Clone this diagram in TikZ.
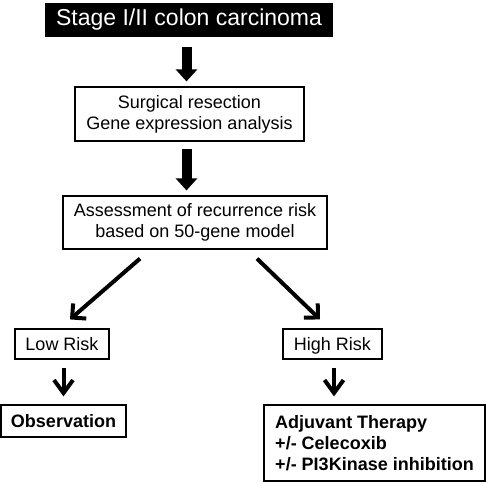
\documentclass[tikz,border=0pt]{standalone}
\usepackage{fontspec}
\setmainfont{Liberation Sans}
\usetikzlibrary{arrows.meta}
\usetikzlibrary{calc}

\begin{document}
\begin{tikzpicture}[x=1pt, y=-1pt,
 box/.style={draw=black, line width=1.2pt, inner sep=0pt, align=center, font=\fontsize{18}{21}\selectfont},
 oneline/.style={text height=13pt, text depth=0pt},
 bigarrow/.style={line width=10pt, -{Triangle[width=21pt,length=12pt]}},
 riskarrow/.style={line width=4pt, line join=miter, -{Straight Barb[length=10pt,width=20pt]}},
 stepdown/.style={line width=4pt, line join=miter, -{Straight Barb[length=13pt,width=19pt]}}]
\useasboundingbox (0,0) rectangle (487,482);
\node[fill=black, text=white, inner sep=0pt, minimum width=288pt, minimum height=34pt, font=\fontsize{23}{27}\selectfont] (stage) at (189,20) {Stage I/II colon carcinoma};
\node[box, minimum width=229pt, minimum height=54pt] (surg) at (189.5,114) {Surgical resection\\Gene expression analysis};
\node[box, minimum width=264pt, minimum height=53pt] (assess) at (195,222.5) {Assessment of recurrence risk\\based on 50-gene model};
\node[box, oneline, minimum width=94pt, minimum height=30pt] (low) at (62,344) {Low Risk};
\node[box, oneline, minimum width=99pt, minimum height=30pt] (high) at (332.5,344) {High Risk};
\node[box, oneline, minimum width=125pt, minimum height=32pt, font=\fontsize{18}{21}\selectfont\bfseries] (obs) at (63.5,421) {Observation};
\node[box, align=left, minimum width=221pt, minimum height=76pt, font=\fontsize{18}{21}\selectfont\bfseries] (adj) at (374.5,443) {Adjuvant Therapy\\+/- Celecoxib\\+/- PI3Kinase inhibition};
\draw[bigarrow, shorten <=10pt, shorten >=5pt] ([xshift=-2.5pt]stage.south) -- ([xshift=-2.5pt]stage.south |- surg.north);
\draw[bigarrow, shorten <=7pt, shorten >=5pt] ([xshift=-3pt]surg.south) -- ([xshift=-3pt]surg.south |- assess.north);
\draw[riskarrow] ([xshift=-55pt,yshift=-9pt]assess.south) -- ([xshift=8pt,yshift=9pt]low.north);
\draw[riskarrow] ([xshift=62pt,yshift=-9pt]assess.south) -- ([xshift=-12.5pt,yshift=9pt]high.north);
\foreach \a/\b in {low/obs, high/adj}
 \draw[stepdown, shorten <=8pt, shorten >=8pt] ([xshift=1.5pt]\a.south) -- ([xshift=1.5pt]\a.south |- \b.north);
\end{tikzpicture}
\end{document}
